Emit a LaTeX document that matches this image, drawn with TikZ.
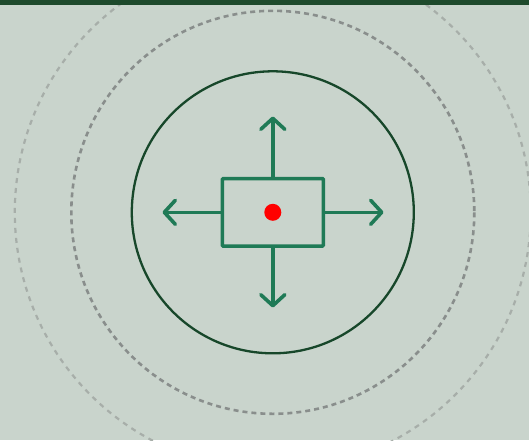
\documentclass[tikz,border=0pt]{standalone}
\usetikzlibrary{arrows.meta}
\definecolor{bg}{HTML}{C9D4CC}
\definecolor{topbar}{HTML}{1E4A2C}
\definecolor{ringdark}{HTML}{17472A}
\definecolor{dashmid}{HTML}{898E8C}
\definecolor{dashout}{HTML}{A7AEA9}
\definecolor{arrowgreen}{HTML}{1F7A56}
\tikzset{
  ring/.style={draw=ringdark, line width=2.3pt},
  dashring/.style={draw=dashmid, line width=2.6pt, dash pattern=on 5pt off 4pt},
  outerring/.style={draw=dashout, line width=2.2pt, dash pattern=on 5pt off 5pt},
  boxstyle/.style={draw=arrowgreen, line width=3.6pt, rounded corners=1pt, minimum width=101pt, minimum height=67.5pt, inner sep=0pt},
  push/.style={draw=arrowgreen, line width=3.6pt, line cap=round, -{Straight Barb[length=11pt,width=24pt,line cap=round,line join=round]}},
  dot/.style={circle, fill=red, minimum size=17pt, inner sep=0pt}
}
\begin{document}
\begin{tikzpicture}[x=1pt,y=-1pt]
\useasboundingbox (0,0) rectangle (529,440);
\fill[bg] (0,0) rectangle (529,440);
\fill[topbar] (0,0) rectangle (529,5);
\coordinate (c) at (272.8,212.3);
\begin{scope}
\clip (0,5) rectangle (529,440);
\draw[outerring] (c) circle[radius=258];
\end{scope}
\draw[dashring] (c) circle[radius=201.5];
\draw[ring] (c) circle[radius=141];
\node[boxstyle] (box) at (c) {};
\node[dot] (d) at (c) {};
\coordinate (up) at (272.8,116.5);
\coordinate (down) at (272.8,307.5);
\coordinate (left) at (162.5,212.3);
\coordinate (right) at (383.5,212.3);
\draw[push] (box.north) -- (up);
\draw[push] (box.south) -- (down);
\draw[push] (box.west) -- (left);
\draw[push] (box.east) -- (right);
\end{tikzpicture}
\end{document}
